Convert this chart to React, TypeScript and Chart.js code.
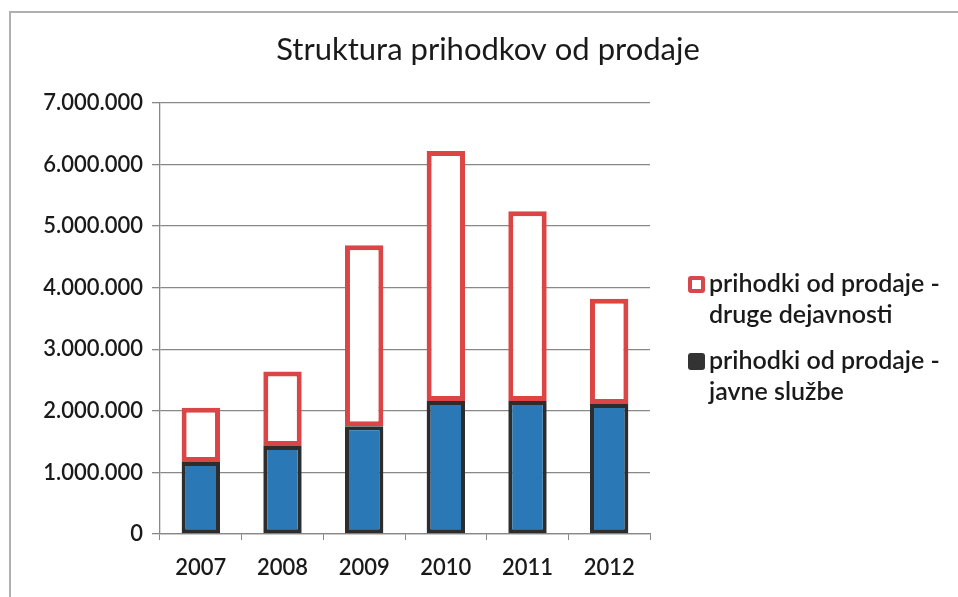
import React, { useEffect, useRef } from "react";
import { Chart, registerables } from "chart.js";

Chart.register(...registerables);

const categories = ["2007", "2008", "2009", "2010", "2011", "2012"];
const javneSluzbe = [1170000, 1430000, 1750000, 2160000, 2160000, 2110000];
const drugeDejavnosti = [880000, 1210000, 2940000, 4060000, 3080000, 1710000];
const seriesNames = [
  ["prihodki od prodaje -", "druge dejavnosti"],
  ["prihodki od prodaje -", "javne službe"],
];
const titleText = "Struktura prihodkov od prodaje";

const FONT = "Lato, 'Open Sans', sans-serif";

export default function App() {
  const ref = useRef<HTMLCanvasElement | null>(null);

  useEffect(() => {
    if (!ref.current) return;
    const overlay = {
      id: "overlay",
      afterDraw(chart: any) {
        const ctx = chart.ctx;
        ctx.save();
        // title
        ctx.fillStyle = "#1a1a1a";
        ctx.font = `31px ${FONT}`;
        ctx.textAlign = "center";
        ctx.textBaseline = "middle";
        ctx.fillText(titleText, 488, 50);
        // legend
        ctx.font = `600 25px ${FONT}`;
        ctx.textAlign = "left";
        const items = [
          { y: 284, lines: seriesNames[0], fill: "#ffffff", stroke: "#d9474a" },
          { y: 361, lines: seriesNames[1], fill: "#333333", stroke: "#333333" },
        ];
        items.forEach((it) => {
          ctx.fillStyle = it.stroke;
          ctx.beginPath();
          (ctx as any).roundRect ? (ctx as any).roundRect(688, it.y - 8, 17, 17, 3) : ctx.rect(688, it.y - 8, 17, 17);
          ctx.fill();
          if (it.fill !== it.stroke) {
            ctx.fillStyle = it.fill;
            ctx.fillRect(692, it.y - 4, 9, 9);
          }
          ctx.fillStyle = "#1a1a1a";
          ctx.fillText(it.lines[0], 709, it.y);
          ctx.fillText(it.lines[1], 709, it.y + 31);
        });
        ctx.restore();
      },
    };

    const chart = new Chart(ref.current, {
      type: "bar",
      data: {
        labels: categories,
        datasets: [
          {
            label: seriesNames[1].join(" "),
            data: javneSluzbe,
            backgroundColor: "#2a79b6",
            borderColor: "#2d2d2d",
            borderWidth: 4,
            borderSkipped: false,
            barPercentage: 0.47,
            categoryPercentage: 1,
          },
          {
            label: seriesNames[0].join(" "),
            data: drugeDejavnosti,
            backgroundColor: "#ffffff",
            borderColor: "#dc4546",
            borderWidth: 5,
            borderSkipped: false,
            barPercentage: 0.47,
            categoryPercentage: 1,
          },
        ],
      },
      options: {
        animation: false,
        responsive: false,
        layout: { padding: { top: 103, right: 308, bottom: 0, left: 0 } },
        plugins: {
          legend: { display: false },
          title: { display: false },
          tooltip: { enabled: false },
        },
        scales: {
          x: {
            stacked: true,
            afterFit: (s: any) => {
              s.height = 63;
            },
            grid: {
              drawOnChartArea: false,
              drawTicks: true,
              tickLength: 6,
              color: "#888",
              offset: true,
            },
            border: { color: "#888", width: 1.3 },
            ticks: {
              color: "#1a1a1a",
              font: { family: FONT, size: 22, weight: 600 },
              padding: 15,
            },
          },
          y: {
            stacked: true,
            min: 0,
            max: 7000000,
            afterFit: (s: any) => {
              s.width = 160;
            },
            grid: {
              color: "#888",
              lineWidth: 1.3,
              tickLength: 8,
            },
            border: { color: "#888", width: 1.3 },
            ticks: {
              stepSize: 1000000,
              color: "#1a1a1a",
              font: { family: FONT, size: 22, weight: 600 },
              padding: 9,
              callback: (v: any) =>
                Number(v)
                  .toString()
                  .replace(/\B(?=(\d{3})+(?!\d))/g, "."),
            },
          },
        },
      },
      plugins: [overlay],
    });
    return () => chart.destroy();
  }, []);

  return (
    <div style={{ position: "fixed", left: 0, top: 0, width: 958, height: 597, background: "#fff" }}>
      <div
        style={{
          position: "absolute",
          left: 9,
          top: 11,
          width: 960,
          height: 600,
          borderLeft: "2px solid #b0b0b0",
          borderTop: "2px solid #b0b0b0",
        }}
      />
      <canvas ref={ref} width={958} height={597} style={{ position: "absolute", left: 0, top: 0, display: "block" }} />
    </div>
  );
}
